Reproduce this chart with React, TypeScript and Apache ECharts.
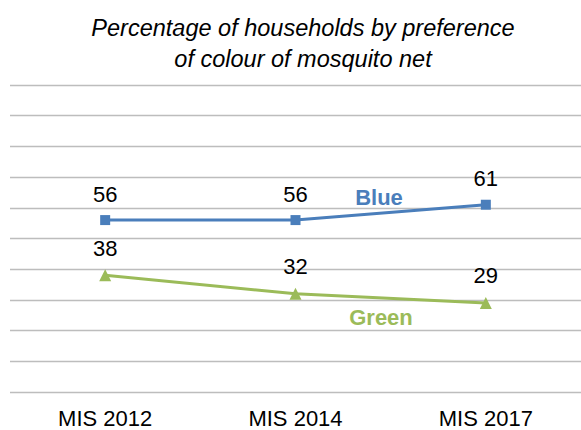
import React, { useEffect, useRef } from "react";
import * as echarts from "echarts";

const categories = ["MIS 2012", "MIS 2014", "MIS 2017"];
const blueValues = [56, 56, 61];
const greenValues = [38, 32, 29];
const titleLines = ["Percentage of households by preference", "of colour of mosquito net"];
const seriesNames = ["Blue", "Green"];

const FONT = "'Liberation Sans', Arial, sans-serif";
const BLUE = "#4a7ebb";
const GREEN = "#9bbb59";

export default function App() {
  const ref = useRef<HTMLDivElement>(null);
  useEffect(() => {
    document.body.style.margin = "0";
    const chart = echarts.init(ref.current!, undefined, { renderer: "svg" });
    const labelStyle = {
      show: true,
      position: "top" as const,
      distance: 10,
      color: "#000",
      fontSize: 22,
      fontFamily: FONT,
    };
    chart.setOption({
      animation: false,
      title: {
        text: titleLines.join("\n"),
        left: 298,
        top: 7,
        textAlign: "center",
        textStyle: {
          fontStyle: "italic",
          fontWeight: "normal",
          fontSize: 23.5,
          lineHeight: 31,
          color: "#000",
          fontFamily: FONT,
        },
      },
      grid: { left: 10, right: -5, top: 85, bottom: 38 },
      xAxis: {
        type: "category",
        data: categories,
        boundaryGap: true,
        axisLine: { show: false },
        axisTick: { show: false },
        axisLabel: { color: "#000", fontSize: 22, fontFamily: FONT, margin: 15 },
        splitLine: { show: false },
      },
      yAxis: {
        type: "value",
        min: 0,
        max: 100,
        interval: 10,
        axisLine: { show: false },
        axisTick: { show: false },
        axisLabel: { show: false },
        splitLine: { show: true, lineStyle: { color: "#bdbdbd", width: 1.3 } },
      },
      series: [
        {
          name: seriesNames[0],
          type: "line",
          data: blueValues,
          symbol: "rect",
          symbolSize: 10,
          itemStyle: { color: BLUE },
          lineStyle: { color: BLUE, width: 3 },
          label: labelStyle,
          z: 3,
        },
        {
          name: seriesNames[1],
          type: "line",
          data: greenValues,
          symbol: "triangle",
          symbolSize: 12,
          itemStyle: { color: GREEN },
          lineStyle: { color: GREEN, width: 3 },
          label: labelStyle,
          z: 3,
        },
      ],
      graphic: [
        {
          type: "text",
          x: 379,
          y: 197,
          style: {
            text: seriesNames[0],
            fill: BLUE,
            fontSize: 22,
            fontWeight: "bold",
            fontFamily: FONT,
            align: "center",
            verticalAlign: "middle",
          },
        },
        {
          type: "text",
          x: 381,
          y: 317,
          style: {
            text: seriesNames[1],
            fill: GREEN,
            fontSize: 22,
            fontWeight: "bold",
            fontFamily: FONT,
            align: "center",
            verticalAlign: "middle",
          },
        },
      ],
    });
    return () => chart.dispose();
  }, []);
  return <div ref={ref} style={{ width: 581, height: 430 }} />;
}
